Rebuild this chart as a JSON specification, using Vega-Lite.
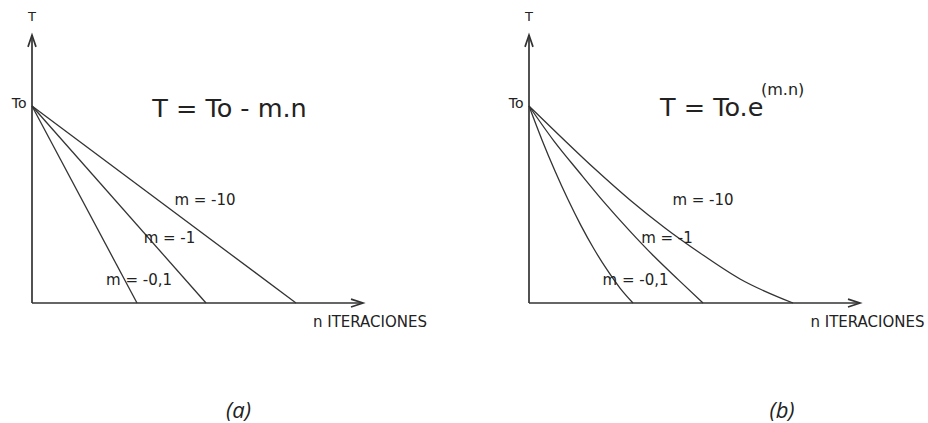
{
  "$schema": "https://vega.github.io/schema/vega-lite/v6.json",
  "background": "white",
  "padding": 0,
  "spacing": 0,
  "bounds": "flush",
  "config": {
    "view": {"stroke": null},
    "text": {"font": "DejaVu Sans", "color": "#222222", "baseline": "middle"}
  },
  "datasets": {
    "axes": [
      {"part": "yaxis", "i": 0, "n": 0, "T": 0},
      {"part": "yaxis", "i": 1, "n": 0, "T": 136},
      {"part": "xaxis", "i": 0, "n": 0, "T": 0},
      {"part": "xaxis", "i": 1, "n": 165.5, "T": 0},
      {"part": "yhead", "i": 0, "n": -2, "T": 130},
      {"part": "yhead", "i": 1, "n": 0, "T": 136},
      {"part": "yhead", "i": 2, "n": 2, "T": 130},
      {"part": "xhead", "i": 0, "n": 159.5, "T": 2},
      {"part": "xhead", "i": 1, "n": 165.5, "T": 0},
      {"part": "xhead", "i": 2, "n": 159.5, "T": -2}
    ],
    "linear": [
      {"m": "-0,1", "n": 0, "T": 100},
      {"m": "-0,1", "n": 52.5, "T": 0},
      {"m": "-1", "n": 0, "T": 100},
      {"m": "-1", "n": 87, "T": 0},
      {"m": "-10", "n": 0, "T": 100},
      {"m": "-10", "n": 132, "T": 0}
    ],
    "exponential": [
      {"m": "-0,1", "n": 0, "T": 100},
      {"m": "-0,1", "n": 6.5, "T": 82.8},
      {"m": "-0,1", "n": 13, "T": 67.0},
      {"m": "-0,1", "n": 19.5, "T": 52.5},
      {"m": "-0,1", "n": 26, "T": 39.3},
      {"m": "-0,1", "n": 32.5, "T": 27.4},
      {"m": "-0,1", "n": 39, "T": 16.9},
      {"m": "-0,1", "n": 45.5, "T": 7.6},
      {"m": "-0,1", "n": 52, "T": 0},
      {"m": "-1", "n": 0, "T": 100},
      {"m": "-1", "n": 12.5, "T": 82.2},
      {"m": "-1", "n": 25, "T": 66.5},
      {"m": "-1", "n": 37.5, "T": 51.2},
      {"m": "-1", "n": 50, "T": 37.0},
      {"m": "-1", "n": 62.5, "T": 23.7},
      {"m": "-1", "n": 75, "T": 11.5},
      {"m": "-1", "n": 87, "T": 0},
      {"m": "-10", "n": 0, "T": 100},
      {"m": "-10", "n": 15.5, "T": 84.8},
      {"m": "-10", "n": 33, "T": 68.0},
      {"m": "-10", "n": 50.5, "T": 52.3},
      {"m": "-10", "n": 68, "T": 38.1},
      {"m": "-10", "n": 85.5, "T": 25.4},
      {"m": "-10", "n": 105.5, "T": 12.2},
      {"m": "-10", "n": 132, "T": 0}
    ],
    "labels": [
      {"panel": "a", "role": "axisT", "label": "T", "n": 0, "T": 145},
      {"panel": "a", "role": "axisTo", "label": "To", "n": -2.75, "T": 101},
      {"panel": "a", "role": "axisN", "label": "n ITERACIONES", "n": 169, "T": -9.6},
      {"panel": "a", "role": "curve", "label": "m = -10", "n": 86.5, "T": 52.3},
      {"panel": "a", "role": "curve", "label": "m = -1", "n": 68.75, "T": 33},
      {"panel": "a", "role": "curve", "label": "m = -0,1", "n": 53.5, "T": 11.7},
      {"panel": "a", "role": "formula", "label": "T = To - m.n", "n": 98.75, "T": 98.5},
      {"panel": "a", "role": "caption", "label": "(a)", "n": 103.25, "T": -54.8},
      {"panel": "b", "role": "axisT", "label": "T", "n": 0, "T": 145},
      {"panel": "b", "role": "axisTo", "label": "To", "n": -2.75, "T": 101},
      {"panel": "b", "role": "axisN", "label": "n ITERACIONES", "n": 169.25, "T": -9.6},
      {"panel": "b", "role": "curve", "label": "m = -10", "n": 87, "T": 52.3},
      {"panel": "b", "role": "curve", "label": "m = -1", "n": 69, "T": 33},
      {"panel": "b", "role": "curve", "label": "m = -0,1", "n": 53.25, "T": 11.7},
      {"panel": "b", "role": "formulaBase", "label": "T = To.e", "n": 65.5, "T": 99},
      {"panel": "b", "role": "formulaExp", "label": "(m.n)", "n": 116, "T": 108},
      {"panel": "b", "role": "caption", "label": "(b)", "n": 126.5, "T": -54.8}
    ]
  },
  "hconcat": [
    {
      "width": 464,
      "height": 423,
      "encoding": {
        "x": {"field": "n", "type": "quantitative", "scale": {"domain": [-16, 216], "nice": false, "zero": false}, "axis": null},
        "y": {"field": "T", "type": "quantitative", "scale": {"domain": [-60.9, 153.8], "nice": false, "zero": false}, "axis": null}
      },
      "layer": [
        {
          "data": {"name": "axes"},
          "mark": {"type": "line", "color": "#333333", "strokeWidth": 1.7},
          "encoding": {"detail": {"field": "part"}, "order": {"field": "i"}}
        },
        {
          "data": {"name": "linear"},
          "mark": {"type": "line", "color": "#333333", "strokeWidth": 1.3},
          "encoding": {"detail": {"field": "m"}}
        },
        {
          "data": {"name": "labels"},
          "transform": [{"filter": "datum.panel === 'a' && datum.role === 'axisT'"}],
          "mark": {"type": "text", "fontSize": 13, "align": "center"},
          "encoding": {"text": {"field": "label"}}
        },
        {
          "data": {"name": "labels"},
          "transform": [{"filter": "datum.panel === 'a' && datum.role === 'axisTo'"}],
          "mark": {"type": "text", "fontSize": 14, "align": "right"},
          "encoding": {"text": {"field": "label"}}
        },
        {
          "data": {"name": "labels"},
          "transform": [{"filter": "datum.panel === 'a' && datum.role === 'axisN'"}],
          "mark": {"type": "text", "fontSize": 15, "align": "center"},
          "encoding": {"text": {"field": "label"}}
        },
        {
          "data": {"name": "labels"},
          "transform": [{"filter": "datum.panel === 'a' && datum.role === 'curve'"}],
          "mark": {"type": "text", "fontSize": 15, "align": "center"},
          "encoding": {"text": {"field": "label"}}
        },
        {
          "data": {"name": "labels"},
          "transform": [{"filter": "datum.panel === 'a' && datum.role === 'formula'"}],
          "mark": {"type": "text", "fontSize": 25.5, "align": "center"},
          "encoding": {"text": {"field": "label"}}
        },
        {
          "data": {"name": "labels"},
          "transform": [{"filter": "datum.panel === 'a' && datum.role === 'caption'"}],
          "mark": {"type": "text", "fontSize": 22, "font": "Open Sans", "fontStyle": "italic", "align": "center"},
          "encoding": {"text": {"field": "label"}}
        }
      ]
    },
    {
      "width": 464,
      "height": 423,
      "encoding": {
        "x": {"field": "n", "type": "quantitative", "scale": {"domain": [-32.5, 199.5], "nice": false, "zero": false}, "axis": null},
        "y": {"field": "T", "type": "quantitative", "scale": {"domain": [-60.9, 153.8], "nice": false, "zero": false}, "axis": null}
      },
      "layer": [
        {
          "data": {"name": "axes"},
          "mark": {"type": "line", "color": "#333333", "strokeWidth": 1.7},
          "encoding": {"detail": {"field": "part"}, "order": {"field": "i"}}
        },
        {
          "data": {"name": "exponential"},
          "mark": {"type": "line", "color": "#333333", "strokeWidth": 1.3, "interpolate": "monotone"},
          "encoding": {"detail": {"field": "m"}}
        },
        {
          "data": {"name": "labels"},
          "transform": [{"filter": "datum.panel === 'b' && datum.role === 'axisT'"}],
          "mark": {"type": "text", "fontSize": 13, "align": "center"},
          "encoding": {"text": {"field": "label"}}
        },
        {
          "data": {"name": "labels"},
          "transform": [{"filter": "datum.panel === 'b' && datum.role === 'axisTo'"}],
          "mark": {"type": "text", "fontSize": 14, "align": "right"},
          "encoding": {"text": {"field": "label"}}
        },
        {
          "data": {"name": "labels"},
          "transform": [{"filter": "datum.panel === 'b' && datum.role === 'axisN'"}],
          "mark": {"type": "text", "fontSize": 15, "align": "center"},
          "encoding": {"text": {"field": "label"}}
        },
        {
          "data": {"name": "labels"},
          "transform": [{"filter": "datum.panel === 'b' && datum.role === 'curve'"}],
          "mark": {"type": "text", "fontSize": 15, "align": "center"},
          "encoding": {"text": {"field": "label"}}
        },
        {
          "data": {"name": "labels"},
          "transform": [{"filter": "datum.panel === 'b' && datum.role === 'formulaBase'"}],
          "mark": {"type": "text", "fontSize": 25.5, "align": "left"},
          "encoding": {"text": {"field": "label"}}
        },
        {
          "data": {"name": "labels"},
          "transform": [{"filter": "datum.panel === 'b' && datum.role === 'formulaExp'"}],
          "mark": {"type": "text", "fontSize": 16, "align": "left"},
          "encoding": {"text": {"field": "label"}}
        },
        {
          "data": {"name": "labels"},
          "transform": [{"filter": "datum.panel === 'b' && datum.role === 'caption'"}],
          "mark": {"type": "text", "fontSize": 22, "font": "Open Sans", "fontStyle": "italic", "align": "center"},
          "encoding": {"text": {"field": "label"}}
        }
      ]
    }
  ]
}
